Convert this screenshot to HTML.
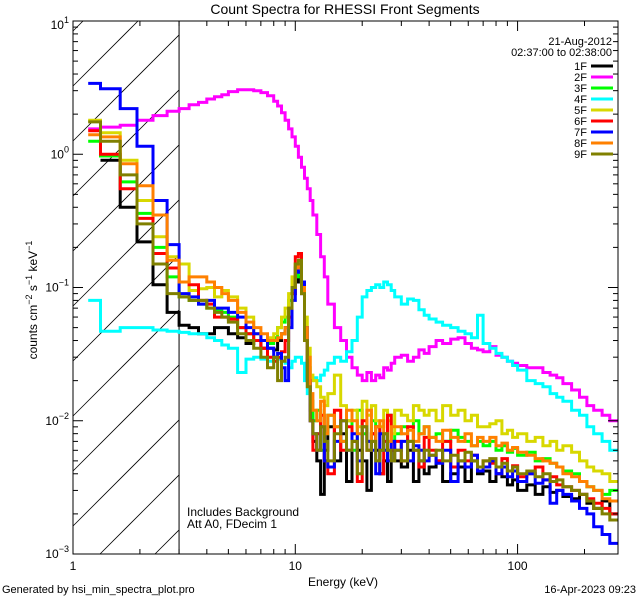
<!DOCTYPE html>
<html style="margin:0;padding:0;width:640px;height:600px;overflow:hidden"><head><meta charset="utf-8"><style>
body{margin:0;padding:0;background:#fff;width:640px;height:600px;overflow:hidden}
svg{display:block;overflow:hidden;font-family:"Liberation Sans",sans-serif}
</style></head><body>
<svg id="chart" width="640" height="600" viewBox="0 0 640 600" xmlns="http://www.w3.org/2000/svg">
<text x="345" y="14" font-size="14" text-anchor="middle">Count Spectra for RHESSI Front Segments</text>
<text transform="translate(37,300) rotate(-90)" font-size="12" text-anchor="middle">counts cm<tspan dy="-5" font-size="9">−2</tspan><tspan dy="5"> s</tspan><tspan dy="-5" font-size="9">−1</tspan><tspan dy="5"> keV</tspan><tspan dy="-5" font-size="9">−1</tspan></text>
<text x="343" y="586" font-size="12" text-anchor="middle">Energy (keV)</text>
<text x="2" y="593" font-size="11">Generated by hsi_min_spectra_plot.pro</text>
<text x="636" y="593" font-size="11" text-anchor="end">16-Apr-2023 09:23</text>
<text x="187" y="516" font-size="12">Includes Background</text>
<text x="187" y="528" font-size="12">Att A0, FDecim 1</text>
<g id="hatch"></g>
<g id="series"></g>
<g id="axes"></g>
<g id="legend"></g>
</svg>
<script>
const edges=[1.17,1.33,1.63,1.94,2.29,2.65,3.0,3.33,3.67,4,4.33,4.67,5,5.5,6,6.5,7,7.5,8,8.33,8.67,9,9.33,9.67,10,10.33,10.67,11,11.33,11.67,12,12.5,13,13.5,14,15,16,17,18,19,20,21,22,23,24,25,26,27,28,30,32,34,36,38,40,43,46,50,54,58,62,66,70,75,80,85,90,95,100,110,120,130,140,150,160,175,190,205,220,240,260,283];
const seriesNames=["1F","2F","3F","4F","5F","6F","7F","8F","9F"];
const seriesColors=["#000000","#ff00ff","#00ff00","#00ffff","#d8d800","#ff0000","#0000ff","#ff8000","#808000"];
const s1F=[null,0.9,0.4,0.22,0.105,0.065,
0.052,0.05,0.045,0.045,0.05,0.05,0.045,0.042,0.038,0.04,0.035,0.035,
0.034,0.04,0.045,0.05,0.07,0.09,0.11,0.12,0.09,0.04,0.02,0.012,
0.007,0.005,0.0028,0.006,0.009,0.005,0.008,0.0035,0.007,0.006,0.005,0.003,0.008,0.006,0.004,0.005,0.0035,0.006,
0.005,0.0045,0.006,0.0035,0.005,0.004,0.0045,0.005,0.0035,0.004,0.0045,0.0035,0.005,0.004,
0.0042,0.0035,0.004,0.0038,0.0033,0.0036,0.003,0.0033,0.0028,0.0032,0.0029,0.003,0.0027,0.0026,0.0028,0.0024,0.0022,0.0025,0.002];
const s2F=[1.55,1.6,1.65,1.8,1.95,2.1,
2.2,2.35,2.45,2.6,2.7,2.8,2.95,3.05,3.05,3.0,2.9,2.75,
2.5,2.3,2.05,1.8,1.55,1.35,1.15,0.95,0.8,0.66,0.55,0.45,
0.35,0.25,0.17,0.12,0.075,0.05,0.04,0.03,0.025,0.022,0.02,0.023,0.02,0.022,0.021,0.025,0.024,0.027,
0.03,0.031,0.028,0.03,0.034,0.032,0.036,0.04,0.038,0.041,0.042,0.038,0.035,0.034,
0.033,0.036,0.031,0.03,0.028,0.027,0.026,0.025,0.025,0.023,0.022,0.021,0.019,0.017,0.015,0.013,0.012,0.011,0.01];
const s3F=[1.25,0.97,0.62,0.36,0.2,0.12,
0.085,0.08,0.075,0.07,0.068,0.065,0.06,0.05,0.045,0.04,0.04,0.038,
0.042,0.05,0.055,0.06,0.08,0.1,0.12,0.13,0.1,0.05,0.025,0.014,
0.01,0.012,0.006,0.008,0.011,0.009,0.007,0.01,0.006,0.012,0.008,0.007,0.01,0.009,0.006,0.008,0.011,0.007,
0.008,0.009,0.007,0.01,0.008,0.009,0.0075,0.008,0.007,0.0085,0.0075,0.007,0.0065,0.007,
0.0065,0.007,0.006,0.0065,0.0058,0.0062,0.0055,0.0058,0.005,0.0052,0.0048,0.0045,0.0042,0.004,0.0035,0.0032,0.003,0.0028,0.003];
const s4F=[0.08,0.047,0.05,0.05,0.048,0.047,
0.046,0.045,0.045,0.042,0.04,0.037,0.035,0.023,0.029,0.03,0.029,0.028,
0.03,0.029,0.028,0.027,0.025,0.028,0.03,0.03,0.027,0.02,0.016,0.02,
0.021,0.02,0.022,0.024,0.027,0.03,0.028,0.033,0.04,0.06,0.085,0.095,0.1,0.105,0.1,0.11,0.105,0.095,
0.085,0.075,0.082,0.08,0.068,0.062,0.058,0.055,0.052,0.05,0.047,0.045,0.042,0.062,
0.038,0.035,0.032,0.03,0.028,0.026,0.024,0.02,0.019,0.018,0.016,0.015,0.014,0.012,0.011,0.009,0.008,0.007,0.006];
const s5F=[1.8,1.45,0.9,0.45,0.24,0.17,
0.15,0.095,0.098,0.1,0.085,0.095,0.085,0.07,0.06,0.045,0.04,0.042,
0.045,0.05,0.06,0.07,0.09,0.12,0.15,0.14,0.1,0.06,0.035,0.022,
0.02,0.018,0.015,0.013,0.016,0.022,0.013,0.01,0.012,0.009,0.014,0.011,0.013,0.01,0.009,0.012,0.01,0.008,
0.012,0.011,0.01,0.013,0.012,0.011,0.012,0.01,0.013,0.011,0.012,0.01,0.011,0.009,
0.009,0.0095,0.01,0.008,0.0085,0.0075,0.008,0.007,0.0075,0.0065,0.007,0.006,0.0065,0.0058,0.005,0.0045,0.0042,0.004,0.0035];
const s6F=[1.5,1.0,0.55,0.33,0.18,0.14,
0.11,0.105,0.08,0.075,0.06,0.06,0.058,0.05,0.045,0.04,0.035,0.03,
0.028,0.03,0.033,0.04,0.06,0.09,0.17,0.18,0.1,0.04,0.02,0.01,
0.006,0.008,0.011,0.005,0.004,0.012,0.006,0.009,0.007,0.0035,0.01,0.006,0.008,0.009,0.004,0.007,0.011,0.006,
0.007,0.005,0.009,0.006,0.0045,0.0075,0.006,0.005,0.007,0.0045,0.006,0.005,0.0055,0.0045,
0.005,0.0048,0.004,0.0052,0.0042,0.0046,0.0038,0.004,0.0045,0.0036,0.0038,0.0033,0.0032,0.003,0.0028,0.0026,0.0024,0.0022,0.002];
const s7F=[3.4,3.1,2.2,1.15,0.45,0.21,
0.09,0.085,0.075,0.08,0.07,0.07,0.065,0.06,0.05,0.045,0.04,0.035,
0.03,0.032,0.025,0.02,0.05,0.08,0.14,0.13,0.11,0.05,0.02,0.01,
0.008,0.006,0.009,0.005,0.0045,0.007,0.01,0.006,0.008,0.005,0.009,0.007,0.006,0.004,0.008,0.006,0.005,0.007,
0.006,0.007,0.005,0.0065,0.006,0.005,0.0055,0.0048,0.006,0.0035,0.005,0.0045,0.0055,0.0042,
0.0045,0.005,0.004,0.0045,0.0038,0.0042,0.0035,0.004,0.0034,0.0036,0.0024,0.003,0.0028,0.0025,0.0022,0.002,0.0016,0.0014,0.0012];
const s8F=[1.4,1.35,0.85,0.58,0.35,0.16,
0.11,0.12,0.12,0.11,0.1,0.09,0.08,0.065,0.055,0.05,0.045,0.04,
0.04,0.042,0.045,0.05,0.07,0.1,0.14,0.15,0.1,0.05,0.03,0.016,
0.012,0.01,0.014,0.008,0.011,0.009,0.007,0.012,0.01,0.008,0.009,0.012,0.007,0.009,0.01,0.008,0.007,0.009,
0.009,0.008,0.0085,0.007,0.008,0.009,0.0075,0.007,0.0085,0.0075,0.007,0.008,0.0065,0.0075,
0.007,0.0075,0.0065,0.0068,0.006,0.0063,0.0058,0.0055,0.0052,0.005,0.0048,0.0045,0.004,0.0038,0.0035,0.0032,0.003,0.0026,0.0025];
const s9F=[1.75,1.25,0.7,0.3,0.15,0.09,
0.085,0.08,0.08,0.07,0.065,0.06,0.055,0.045,0.04,0.035,0.03,0.025,
0.03,0.02,0.028,0.03,0.07,0.1,0.15,0.16,0.09,0.04,0.018,0.01,
0.008,0.006,0.009,0.007,0.005,0.008,0.01,0.006,0.007,0.004,0.009,0.006,0.007,0.005,0.006,0.008,0.006,0.005,
0.006,0.005,0.007,0.006,0.005,0.006,0.0055,0.006,0.005,0.0055,0.005,0.0058,0.005,0.0045,
0.005,0.0052,0.0045,0.0048,0.0042,0.0045,0.004,0.0042,0.0038,0.004,0.0035,0.0036,0.0032,0.003,0.0028,0.0025,0.0022,0.002,0.0018];
const seriesValues=[s1F,s2F,s3F,s4F,s5F,s6F,s7F,s8F,s9F];
const xTickLabels=["1","10","100"];
const yTickExps=[1,0,-1,-2,-3];

const NS="http://www.w3.org/2000/svg";
const L=73,R=618,T=21,B=554,XMIN=1,XMAX=283,YMIN=1e-3,YMAX=10;
function xs(e){return L+(R-L)*(Math.log10(e)-Math.log10(XMIN))/(Math.log10(XMAX)-Math.log10(XMIN));}
function ys(v){return B-(B-T)*(Math.log10(v)-Math.log10(YMIN))/(Math.log10(YMAX)-Math.log10(YMIN));}
function mk(tag,attrs,parent){const el=document.createElementNS(NS,tag);for(const k in attrs)el.setAttribute(k,attrs[k]);parent.appendChild(el);return el;}

const defs=mk("defs",{},document.getElementById("chart"));
const cp=mk("clipPath",{id:"plotclip"},defs);
mk("rect",{x:L,y:T,width:R-L,height:B-T},cp);

// hatch lines computed inside the region (slope -1: y = k - x)
const hg=document.getElementById("hatch");
const X3=xs(3);
for(let k=L+T+10;k<X3+B;k+=55){
  let xa=Math.max(L,k-B),xb=Math.min(X3,k-T);
  if(xb<=xa)continue;
  const ln=mk("line",{x1:xa,y1:k-xa,x2:xb,y2:k-xb,stroke:"#000","stroke-width":0.8},hg);
  
  
}
const v3=mk("line",{x1:X3,y1:T,x2:X3,y2:B,stroke:"#000","stroke-width":1},hg);



const sg=document.getElementById("series");
sg.setAttribute("clip-path","url(#plotclip)");
seriesValues.forEach((vals,si)=>{
  let d="";let pen=false;
  for(let i=0;i<vals.length;i++){
    const v=vals[i];
    if(v==null){pen=false;continue;}
    const x0=xs(edges[i]),x1=xs(edges[i+1]),y=ys(v);
    d+=(pen?"L":"M")+x0.toFixed(1)+","+y.toFixed(1)+"L"+x1.toFixed(1)+","+y.toFixed(1);
    pen=true;
  }
  const p=mk("path",{d:d,fill:"none",stroke:seriesColors[si],"stroke-width":3,"stroke-linejoin":"miter"},sg);
  
  
});

const ag=document.getElementById("axes");
const frame=mk("rect",{x:L,y:T,width:R-L,height:B-T,fill:"none",stroke:"#000","stroke-width":1},ag);


for(let dec=0;dec<3;dec++){
  for(let m=1;m<10;m++){
    const e=Math.pow(10,dec)*m;if(e>XMAX)break;
    const x=xs(e),len=m==1?10:5;
    mk("line",{x1:x,y1:B,x2:x,y2:B-len,stroke:"#000"},ag);
    mk("line",{x1:x,y1:T,x2:x,y2:T+len,stroke:"#000"},ag);
  }
}
xTickLabels.forEach((lab,i)=>{
  const t=mk("text",{x:xs(Math.pow(10,i)),y:B+16,"font-size":12,"text-anchor":"middle"},ag);
  t.textContent=lab;
  
  
});
for(let ex=-3;ex<1;ex++){
  for(let m=1;m<10;m++){
    const v=Math.pow(10,ex)*m;const y=ys(v),len=m==1?10:5;
    mk("line",{x1:L,y1:y,x2:L+len,y2:y,stroke:"#000"},ag);
    mk("line",{x1:R,y1:y,x2:R-len,y2:y,stroke:"#000"},ag);
  }
}
yTickExps.forEach(ex=>{
  const t=mk("text",{x:L-4,y:ys(Math.pow(10,ex))+4,"font-size":12,"text-anchor":"end"},ag);
  
  
  const a=mk("tspan",{},t);a.textContent="10";
  const b=mk("tspan",{dy:-6,"font-size":9},t);b.textContent=(ex<0?"−":"")+Math.abs(ex);
  if(ex===1){t.setAttribute("y",ys(10)+8);}
});

const lg=document.getElementById("legend");
const hdr1=mk("text",{x:612,y:45,"font-size":11,"text-anchor":"end"},lg);hdr1.textContent="21-Aug-2012";


const hdr2=mk("text",{x:612,y:56,"font-size":11,"text-anchor":"end"},lg);hdr2.textContent="02:37:00 to 02:38:00";


seriesNames.forEach((n,i)=>{
  const y=66+i*11;
  const t=mk("text",{x:587,y:y+4,"font-size":11,"text-anchor":"end"},lg);t.textContent=n;
  
  
  const l=mk("line",{x1:591,y1:y,x2:613,y2:y,stroke:seriesColors[i],"stroke-width":3},lg);
  
  
});
</script>
</body></html>
